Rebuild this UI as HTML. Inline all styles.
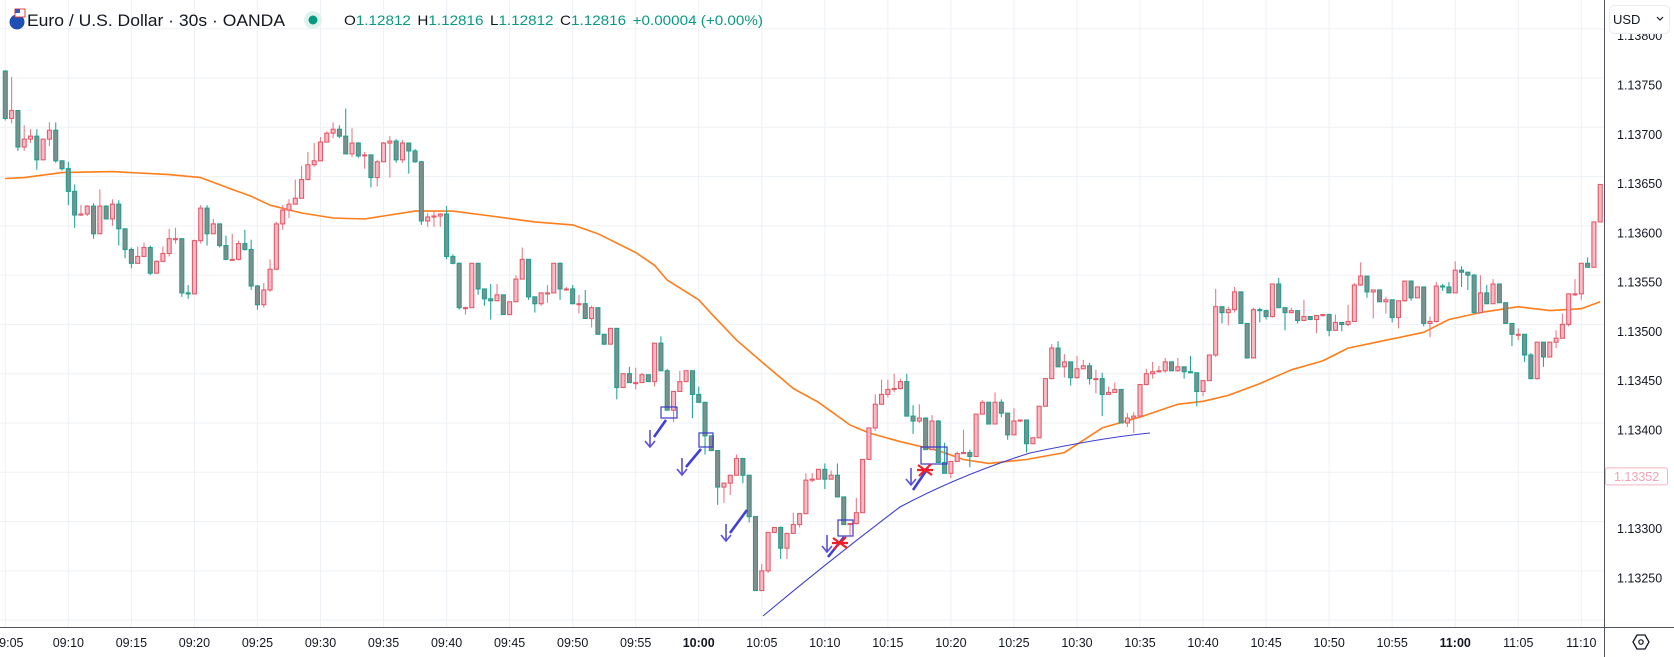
<!DOCTYPE html>
<html><head><meta charset="utf-8">
<style>
html,body{margin:0;padding:0;background:#fff;}
body{width:1674px;height:657px;overflow:hidden;font-family:"Liberation Sans",sans-serif;}
svg{display:block;}
</style></head>
<body>
<svg id="chart" width="1674" height="657" viewBox="0 0 1674 657" xmlns="http://www.w3.org/2000/svg">
  <rect x="0" y="0" width="1674" height="657" fill="#ffffff"/>
  <g id="grid"></g>
  <g id="ma"></g>
  <g id="candles"></g>
  <g id="drawings"></g>
  <g id="axes"></g>

  <!-- header -->
  <g>
    <circle cx="17" cy="22" r="7.5" fill="#1f4fb5"/>
    <rect x="15" y="9" width="10" height="8" fill="#fff" stroke="#e0413c" stroke-width="1"/>
    <rect x="15" y="9" width="5" height="4" fill="#3657c4"/>
    <text x="27" y="26" font-size="17" textLength="258" lengthAdjust="spacingAndGlyphs" fill="#131722">Euro / U.S. Dollar · 30s · OANDA</text>
    <circle cx="313" cy="20" r="9" fill="#dff3ee"/>
    <circle cx="313" cy="20" r="4.5" fill="#089981"/>
    <text x="344" y="25" font-size="14" textLength="419" lengthAdjust="spacingAndGlyphs"><tspan fill="#131722">O</tspan><tspan fill="#089981">1.12812</tspan><tspan fill="#131722" dx="6">H</tspan><tspan fill="#089981">1.12816</tspan><tspan fill="#131722" dx="6">L</tspan><tspan fill="#089981">1.12812</tspan><tspan fill="#131722" dx="6">C</tspan><tspan fill="#089981">1.12816</tspan><tspan fill="#089981" dx="6">+0.00004 (+0.00%)</tspan></text>
  </g>
</svg>
<script>
// ---- data (prices in 1e-5 units: 13709 => 1.13709) ----
const firstOpen = 13757;
const closes = [13709,13717,13680,13688,13691,13667,13688,13697,13666,13658,13635,13611,13612,13620,13592,13620,13607,13622,13597,13576,13562,13569,13578,13552,13564,13572,13587,13587,13532,13531,
13585,13618,13592,13602,13580,13566,13566,13582,13576,13539,13520,13535,13556,13602,13616,13622,13628,13647,13662,13666,13685,13694,13698,13691,13673,13684,13671,13672,13649,13665,
13684,13686,13667,13684,13676,13665,13605,13609,13610,13612,13569,13562,13517,13517,13562,13536,13526,13524,13530,13510,13523,13546,13566,13528,13521,13532,13532,13562,13536,13536,
13521,13521,13506,13517,13490,13480,13496,13436,13450,13441,13441,13449,13442,13481,13453,13413,13432,13442,13453,13429,13421,13387,13372,13335,13339,13347,13364,13347,13305,13230,
13250,13289,13294,13273,13288,13297,13308,13342,13343,13353,13343,13347,13325,13297,13298,13309,13363,13395,13419,13429,13434,13435,13442,13407,13402,13405,13373,13402,13360,13349,
13361,13369,13370,13366,13409,13421,13399,13421,13410,13388,13402,13403,13379,13385,13417,13445,13476,13457,13462,13446,13455,13458,13445,13445,13429,13431,13434,13400,13405,13407,
13439,13450,13452,13453,13462,13453,13457,13452,13451,13432,13443,13469,13518,13512,13515,13533,13501,13466,13515,13514,13508,13541,13517,13512,13514,13504,13508,13505,13509,13510,
13494,13502,13500,13503,13540,13549,13533,13535,13523,13525,13507,13524,13544,13527,13538,13501,13503,13539,13538,13532,13555,13553,13550,13512,13532,13521,13541,13522,13501,13490,
13490,13469,13445,13482,13467,13482,13486,13500,13531,13531,13562,13558,13604,13642];
const highs = [13758,13751,13716,13702,13698,13698,13688,13705,13705,13666,13665,13642,13621,13621,13623,13637,13621,13627,13626,13596,13578,13579,13583,13580,13565,13579,13597,13598,13582,13540,
13586,13621,13621,13607,13601,13590,13592,13585,13596,13586,13540,13542,13566,13604,13621,13627,13647,13661,13675,13684,13690,13696,13705,13702,13719,13699,13685,13675,13672,13667,
13685,13691,13688,13687,13682,13678,13666,13613,13615,13613,13620,13571,13563,13518,13562,13557,13536,13541,13541,13529,13523,13550,13578,13566,13527,13532,13540,13562,13563,13538,
13540,13530,13535,13519,13514,13490,13496,13496,13450,13457,13456,13451,13445,13481,13488,13455,13432,13453,13453,13453,13437,13421,13387,13371,13339,13347,13368,13363,13347,13304,
13257,13289,13294,13295,13288,13309,13308,13349,13349,13353,13359,13352,13359,13324,13298,13324,13363,13395,13429,13444,13444,13450,13445,13450,13418,13419,13402,13408,13403,13380,
13361,13371,13393,13373,13409,13423,13421,13431,13424,13410,13415,13403,13403,13385,13417,13445,13480,13483,13470,13461,13468,13464,13461,13454,13451,13437,13441,13434,13410,13411,
13439,13455,13462,13458,13466,13461,13466,13457,13468,13451,13443,13469,13536,13518,13518,13538,13531,13501,13517,13517,13515,13541,13547,13517,13517,13514,13525,13508,13509,13510,
13511,13510,13502,13520,13542,13563,13546,13535,13533,13528,13522,13524,13544,13543,13538,13536,13508,13543,13541,13543,13564,13559,13551,13551,13550,13540,13546,13541,13522,13501,
13496,13490,13471,13482,13480,13482,13494,13511,13531,13546,13562,13568,13604,13642];
const lows = [13707,13704,13676,13676,13684,13657,13667,13681,13664,13656,13621,13598,13610,13610,13587,13592,13607,13600,13580,13567,13557,13562,13569,13550,13552,13564,13569,13582,13528,13526,
13532,13582,13580,13592,13578,13565,13565,13565,13575,13535,13515,13517,13533,13555,13596,13608,13623,13629,13649,13660,13667,13687,13689,13689,13673,13670,13669,13658,13639,13640,
13665,13649,13664,13664,13653,13664,13601,13599,13599,13599,13566,13561,13515,13510,13517,13530,13519,13505,13525,13510,13512,13523,13546,13525,13512,13519,13522,13532,13525,13534,
13521,13511,13506,13497,13490,13479,13482,13424,13436,13441,13434,13442,13442,13437,13453,13413,13401,13433,13442,13405,13421,13368,13372,13317,13319,13327,13348,13339,13299,13230,
13234,13248,13293,13262,13262,13288,13294,13308,13340,13343,13333,13343,13325,13297,13286,13297,13309,13364,13392,13419,13426,13431,13434,13407,13389,13400,13373,13373,13360,13349,
13344,13361,13369,13355,13367,13409,13399,13399,13406,13383,13400,13401,13370,13380,13386,13417,13445,13457,13446,13438,13445,13455,13439,13430,13407,13429,13431,13400,13396,13390,
13406,13439,13445,13451,13451,13453,13452,13445,13451,13417,13427,13445,13467,13501,13499,13512,13501,13466,13467,13502,13505,13507,13517,13494,13512,13501,13507,13505,13491,13508,
13488,13495,13493,13498,13505,13539,13527,13506,13523,13511,13502,13496,13523,13524,13527,13498,13487,13502,13534,13532,13532,13538,13535,13512,13513,13521,13521,13522,13501,13478,
13484,13462,13445,13444,13457,13467,13476,13486,13498,13529,13525,13558,13560,13604];
// moving average samples: candle index + value
const maIdx = [0,3,9,17,26,31,36,39,42,47,52,57,60,65,71,77,84,90,94,100,103,105,110,112,116,120,125,129,134,137,142,148,152,156,162,168,174,180,186,190,194,199,204,209,213,219,225,229,234,240,245,250,253];
const maVal = [13648,13649,13654,13655,13652,13649,13637,13630,13621,13613,13608,13607,13610,13615,13615,13610,13604,13601,13592,13573,13560,13545,13525,13511,13484,13462,13435,13421,13398,13390,13381,13372,13363,13359,13363,13370,13395,13406,13419,13422,13428,13440,13454,13463,13476,13484,13492,13505,13512,13518,13514,13516,13523];
const priceTicks = [13800,13750,13700,13650,13600,13550,13500,13450,13400,13350,13300,13250,13200];
const timeLabels = ["09:05","09:10","09:15","09:20","09:25","09:30","09:35","09:40","09:45","09:50","09:55","10:00","10:05","10:10","10:15","10:20","10:25","10:30","10:35","10:40","10:45","10:50","10:55","11:00","11:05","11:10"];
const boldLabels = ["10:00","11:00"];
const lastPrice = 13352;

const NS = "http://www.w3.org/2000/svg";
const X = i => 5.3 + i * 6.304;
const Y = v => 423 - (v - 13400) * 0.98571;
function mk(tag, attrs, parent){ const e=document.createElementNS(NS,tag); for(const k in attrs) e.setAttribute(k,attrs[k]); parent.appendChild(e); return e; }
const grid=document.getElementById('grid'), cg=document.getElementById('candles'), mag=document.getElementById('ma'), dg=document.getElementById('drawings'), ax=document.getElementById('axes');
const PLOT_R = 1604, PLOT_B = 627;

// grid
priceTicks.forEach(v=>{
  const l=mk('line',{x1:0,x2:PLOT_R,y1:Y(v),y2:Y(v),stroke:'#edf1f6','stroke-width':1},grid);
  
  
});
timeLabels.forEach((t,k)=>{
  const x=X(k*10);
  const l=mk('line',{x1:x,x2:x,y1:0,y2:PLOT_B,stroke:'#edf1f6','stroke-width':1},grid);
  
  
});

// moving average
let d='';
maIdx.forEach((ix,k)=>{ d += (k?'L':'M') + X(ix).toFixed(1) + ' ' + Y(maVal[k]).toFixed(1) + ' '; });
const maPath=mk('path',{d:d,fill:'none',stroke:'#ff7d1a','stroke-width':1.6,'stroke-linejoin':'round'},mag);



// candles
closes.forEach((c,i)=>{
  const o = i ? closes[i-1] : firstOpen;
  const h = Math.max(highs[i], o, c), lo = Math.min(lows[i], o, c);
  const up = c >= o;
  const x = X(i);
  const g = mk('g',{},cg);
  
  
  mk('line',{x1:x,x2:x,y1:Y(h),y2:Y(lo),stroke: up?'#ec7a86':'#26a69a','stroke-width':1.1},g);
  const top=Y(Math.max(o,c)), bot=Y(Math.min(o,c));
  mk('rect',{x:x-2,y:top,width:4,height:Math.max(bot-top,1),fill: up?'#f8bac6':'#838d8b',stroke: up?'#e65a68':'#1fa08f','stroke-width':1.1},g);
});

// drawings (annotation overlay)
const curve=mk('path',{d:'M763 616 Q 830 560 900 507 Q 960 475 1030 453 Q 1100 438 1150 433',fill:'none',stroke:'#3c3ccf','stroke-width':1.1},dg);


[[661,407,16,11],[699,433,14,14],[838,520,15,16],[921,447,26,17]].forEach(b=>{
  const r=mk('rect',{x:b[0],y:b[1],width:b[2],height:b[3],fill:'none',stroke:'#3a3ac8','stroke-width':1.2},dg);
  
  
});
[[650,430],[682,458],[726,524],[827,535],[911,468]].forEach(a=>{
  const p=mk('path',{d:`M${a[0]} ${a[1]} V${a[1]+16} M${a[0]-5} ${a[1]+11} L${a[0]} ${a[1]+17} L${a[0]+5} ${a[1]+11}`,fill:'none',stroke:'#5a4fd8','stroke-width':1.6},dg);
  
  
});
[[654,437,666,420],[686,467,701,449],[730,533,747,510],[828,557,844,537],[913,490,928,468]].forEach(s=>{
  const l=mk('line',{x1:s[0],y1:s[1],x2:s[2],y2:s[3],stroke:'#4040d0','stroke-width':2.6},dg);
  
  
});
[[840,543],[925,470]].forEach(m=>{
  const p=mk('path',{d:`M${m[0]-7} ${m[1]-5} L${m[0]+7} ${m[1]+5} M${m[0]-6} ${m[1]+6} L${m[0]+6} ${m[1]-6} M${m[0]-8} ${m[1]} L${m[0]+8} ${m[1]}`,fill:'none',stroke:'#f0202a','stroke-width':2.2},dg);
  
  
});

// axes
const va=mk('line',{x1:PLOT_R+0.5,x2:PLOT_R+0.5,y1:0,y2:657,stroke:'#50535e','stroke-width':1},ax);


const ha=mk('line',{x1:0,x2:1674,y1:PLOT_B+0.5,y2:PLOT_B+0.5,stroke:'#50535e','stroke-width':1},ax);


priceTicks.forEach(v=>{
  if (Y(v) > PLOT_B - 10) return;
  const t=mk('text',{x:1617,y:Y(v)+11.5,'font-size':12.5,fill:'#131722','font-family':'Liberation Sans, sans-serif'},ax);
  t.textContent=(1+v/1e5).toFixed(5);
  
  
});
timeLabels.forEach((s,k)=>{
  const bold = boldLabels.includes(s);
  const t=mk('text',{x:X(k*10)+(k===0?6:0),y:647,'font-size':12.5,'text-anchor':'middle',fill:'#131722','font-weight':bold?'bold':'normal','font-family':'Liberation Sans, sans-serif'},ax);
  t.textContent = k===0 ? '9:05' : s;
  
  
});
// last price label
const ly = Y(lastPrice) + 6;
const lb=mk('rect',{x:1605.5,y:ly-8.5,width:62,height:17,rx:2,fill:'#fff',stroke:'#f7b3c2','stroke-width':1},ax);


const lt=mk('text',{x:1614,y:ly+4.5,'font-size':12.5,fill:'#f4a0b4','font-family':'Liberation Sans, sans-serif'},ax);
lt.textContent=(1+lastPrice/1e5).toFixed(5);


// currency selector
const cb=mk('rect',{x:1609.5,y:5.5,width:60,height:28,rx:5,fill:'#fff',stroke:'#e9ecf1','stroke-width':1},ax);


const ct=mk('text',{x:1613,y:24,'font-size':13,fill:'#131722','font-family':'Liberation Sans, sans-serif'},ax);
ct.textContent='USD';


const cv=mk('path',{d:'M1657 17 L1660 20 L1663 17',fill:'none',stroke:'#131722','stroke-width':1.2},ax);


// settings icon
const si=mk('path',{d:'M1633 642 L1637 635 L1645 635 L1649 642 L1645 649 L1637 649 Z',fill:'none',stroke:'#131722','stroke-width':1.3},ax);


const sc=mk('circle',{cx:1641,cy:642,r:2.2,fill:'none',stroke:'#131722','stroke-width':1.2},ax);


</script>
</body></html>
